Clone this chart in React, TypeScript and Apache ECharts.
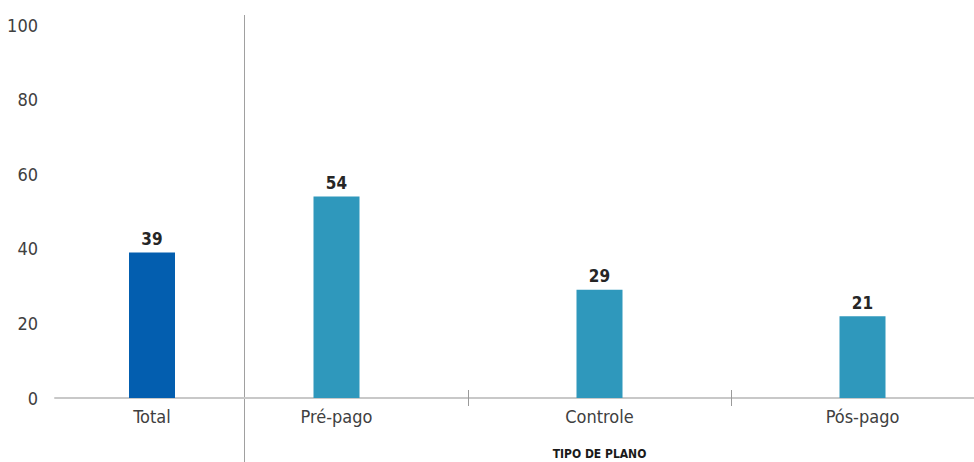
import React, { useEffect, useRef } from "react";
import * as echarts from "echarts";

const totalCategory = ["Total"];
const totalValues = [39];
const totalLabels = ["39"];
const planCategories = ["Pré-pago", "Controle", "Pós-pago"];
const planValues = [54, 29, 21.9];
const planLabels = ["54", "29", "21"];
const yTicks = { min: 0, max: 100, interval: 20 };
const axisTitle = "TIPO DE PLANO";

const FONT = '"DejaVu Sans Condensed", "Liberation Sans Narrow", "Roboto", sans-serif';

export default function App() {
  const ref = useRef<HTMLDivElement>(null);
  useEffect(() => {
    if (!ref.current) return;
    const chart = echarts.init(ref.current, undefined, { renderer: "svg" });
    const labelStyle = {
      show: true,
      position: "top" as const,
      distance: 5,
      fontFamily: FONT,
      fontSize: 17,
      fontWeight: "bold" as const,
      color: "#262626",
    };
    chart.setOption({
      animation: false,
      textStyle: { fontFamily: FONT },
      grid: [
        { left: 55, width: 194, top: 25, bottom: 64, outerBoundsMode: "none", containLabel: false },
        { left: 205, width: 789, top: 25, bottom: 64, outerBoundsMode: "none", containLabel: false },
      ],
      xAxis: [
        {
          type: "category",
          gridIndex: 0,
          data: totalCategory,
          axisLine: { lineStyle: { color: "#c8c8c8", width: 2 } },
          axisTick: { show: false },
          axisLabel: { fontFamily: FONT, fontSize: 18, color: "#404040", margin: 9 },
        },
        {
          type: "category",
          gridIndex: 1,
          position: "bottom",
          data: planCategories,
          axisLine: { lineStyle: { color: "#c8c8c8", width: 2 } },
          axisTick: {
            show: true,
            length: 8,
            interval: (i: number) => i !== 0,
            lineStyle: { color: "#9a9a9a", width: 1 },
          },
          axisLabel: { fontFamily: FONT, fontSize: 18, color: "#404040", margin: 9 },
          name: axisTitle,
          nameLocation: "middle",
          nameGap: 50,
          nameTextStyle: { fontFamily: FONT, fontSize: 12, fontWeight: "bold", color: "#1a1a1a" },
        },
        {
          type: "category",
          gridIndex: 1,
          position: "bottom",
          data: planCategories,
          axisLine: { show: false },
          axisTick: {
            show: true,
            inside: true,
            length: 8,
            interval: (i: number) => i !== 0,
            lineStyle: { color: "#9a9a9a", width: 1 },
          },
          axisLabel: { show: false },
        },
      ],
      yAxis: [
        {
          type: "value",
          gridIndex: 0,
          ...yTicks,
          axisLine: { show: false },
          axisTick: { show: false },
          splitLine: { show: false },
          axisLabel: { fontFamily: FONT, fontSize: 18, color: "#404040", margin: 17 },
        },
        {
          type: "value",
          gridIndex: 1,
          ...yTicks,
          show: false,
          splitLine: { show: false },
        },
      ],
      series: [
        {
          type: "bar",
          xAxisIndex: 0,
          yAxisIndex: 0,
          barWidth: 46,
          data: totalValues,
          itemStyle: { color: "#035EAF" },
          label: { ...labelStyle, formatter: (p: any) => totalLabels[p.dataIndex] },
        },
        {
          type: "bar",
          xAxisIndex: 1,
          yAxisIndex: 1,
          barWidth: 46,
          data: planValues,
          itemStyle: { color: "#2F98BC" },
          label: { ...labelStyle, formatter: (p: any) => planLabels[p.dataIndex] },
        },
      ],
      graphic: [
        {
          type: "line",
          shape: { x1: 244.5, y1: 15, x2: 244.5, y2: 462 },
          style: { stroke: "#a0a0a0", lineWidth: 1 },
          silent: true,
        },
      ],
    });
    return () => chart.dispose();
  }, []);
  return (
    <div
      ref={ref}
      style={{ position: "fixed", left: 0, top: 0, width: 974, height: 462, background: "#fff" }}
    />
  );
}
